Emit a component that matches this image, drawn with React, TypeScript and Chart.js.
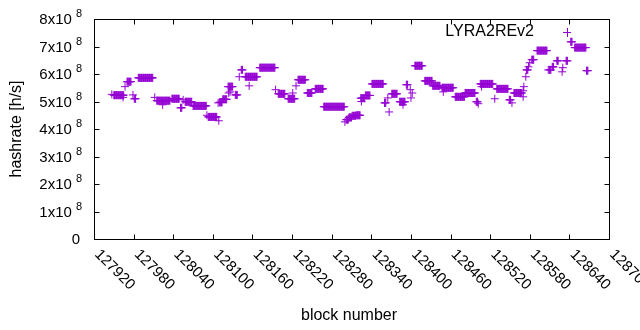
import React, { useEffect, useRef } from 'react';
import { Chart, registerables } from 'chart.js';

Chart.register(...registerables);

const seriesLabel = 'LYRA2REv2';
const xTitle = 'block number';
const yTitle = 'hashrate [h/s]';

const xTicks = [127920, 127980, 128040, 128100, 128160, 128220, 128280, 128340, 128400, 128460, 128520, 128580, 128640, 128700];
const yTicks = [0, 1e8, 2e8, 3e8, 4e8, 5e8, 6e8, 7e8, 8e8];
const yTickMantissa = ['0', '1x10', '2x10', '3x10', '4x10', '5x10', '6x10', '7x10', '8x10'];
const yTickExponent = ['', '8', '8', '8', '8', '8', '8', '8', '8'];

// Runs of consecutive blocks reporting (roughly) the same hashrate
const runStart = [127947, 127950, 127964, 127967, 127970, 127979, 127981, 127987, 128012, 128015, 128024, 128038, 128051, 128055, 128058, 128070, 128091, 128093, 128108, 128109, 128110, 128115, 128123, 128124, 128126, 128134, 128140, 128143, 128149, 128155, 128171, 128195, 128199, 128214, 128221, 128226, 128229, 128243, 128255, 128268, 128300, 128302, 128306, 128311, 128317, 128325, 128324, 128331, 128341, 128360, 128365, 128367, 128371, 128383, 128388, 128393, 128399, 128400, 128402, 128406, 128421, 128433, 128447, 128449, 128467, 128482, 128499, 128502, 128505, 128507, 128527, 128530, 128549, 128553, 128556, 128570, 128570, 128571, 128574, 128575, 128578, 128580, 128583, 128591, 128608, 128610, 128614, 128621, 128629, 128630, 128635, 128642, 128648, 128666];
const runEnd = [127947, 127965, 127964, 127967, 127976, 127979, 127983, 128009, 128012, 128035, 128024, 128049, 128053, 128055, 128068, 128090, 128091, 128106, 128108, 128109, 128114, 128121, 128130, 128124, 128126, 128137, 128140, 128145, 128167, 128155, 128194, 128195, 128209, 128224, 128221, 128226, 128240, 128250, 128267, 128299, 128300, 128305, 128310, 128316, 128323, 128325, 128330, 128338, 128358, 128362, 128365, 128367, 128379, 128391, 128388, 128395, 128399, 128400, 128402, 128417, 128432, 128444, 128464, 128449, 128481, 128497, 128501, 128502, 128524, 128507, 128527, 128547, 128551, 128553, 128568, 128570, 128570, 128571, 128574, 128577, 128578, 128580, 128586, 128606, 128608, 128612, 128616, 128623, 128629, 128630, 128637, 128644, 128665, 128668];
const runRate = [5.26e8, 5.23e8, 5.15e8, 5.54e8, 5.72e8, 5.24e8, 5.10e8, 5.86e8, 5.15e8, 5.03e8, 4.88e8, 5.10e8, 4.77e8, 5.06e8, 4.99e8, 4.84e8, 4.50e8, 4.44e8, 4.95e8, 4.30e8, 4.97e8, 5.08e8, 5.54e8, 5.31e8, 5.35e8, 5.24e8, 5.90e8, 6.15e8, 5.90e8, 5.57e8, 6.23e8, 5.43e8, 5.28e8, 5.10e8, 5.31e8, 5.57e8, 5.79e8, 5.31e8, 5.46e8, 4.81e8, 4.26e8, 4.34e8, 4.42e8, 4.48e8, 4.50e8, 5.00e8, 5.12e8, 5.22e8, 5.64e8, 4.95e8, 5.13e8, 4.62e8, 5.28e8, 4.99e8, 4.88e8, 5.61e8, 5.43e8, 5.13e8, 5.31e8, 6.30e8, 5.75e8, 5.57e8, 5.50e8, 5.35e8, 5.17e8, 5.31e8, 4.99e8, 4.92e8, 5.64e8, 5.54e8, 5.10e8, 5.46e8, 5.06e8, 4.95e8, 5.31e8, 5.17e8, 5.39e8, 5.54e8, 5.90e8, 6.15e8, 6.26e8, 6.41e8, 6.52e8, 6.85e8, 6.15e8, 6.15e8, 6.26e8, 6.48e8, 6.08e8, 6.23e8, 6.48e8, 7.17e8, 6.96e8, 6.12e8];

const COLOR = '#9400D3';
const FONT = '"Liberation Sans", Arial, sans-serif';

function buildPoints() {
  const pts: { x: number; y: number }[] = [];
  for (let i = 0; i < runStart.length; i++) {
    for (let b = runStart[i]; b <= runEnd[i]; b++) pts.push({ x: b, y: runRate[i] });
  }
  return pts;
}

const gnuplotFrame = {
  id: 'gnuplotFrame',
  afterDraw(chart: any) {
    const { ctx, chartArea: a, scales } = chart;
    const xs = scales.x;
    const ys = scales.y;
    const L = Math.round(a.left) + 0.5;
    const R = Math.round(a.right) + 0.5;
    const T = Math.round(a.top) + 0.5;
    const B = Math.round(a.bottom) + 0.5;
    ctx.save();
    ctx.strokeStyle = '#000';
    ctx.lineWidth = 1;
    ctx.strokeRect(L, T, R - L, B - T);
    const tl = 5;
    ctx.beginPath();
    for (const t of xTicks) {
      const px = Math.round(xs.getPixelForValue(t)) + 0.5;
      if (px <= L + 1 || px >= R - 1) continue;
      ctx.moveTo(px, B); ctx.lineTo(px, B - tl);
      ctx.moveTo(px, T); ctx.lineTo(px, T + tl);
    }
    for (const t of yTicks) {
      const py = Math.round(ys.getPixelForValue(t)) + 0.5;
      if (py <= T + 1 || py >= B - 1) continue;
      ctx.moveTo(L, py); ctx.lineTo(L + tl, py);
      ctx.moveTo(R, py); ctx.lineTo(R - tl, py);
    }
    ctx.stroke();

    ctx.fillStyle = '#000';
    // y tick labels with superscript exponent
    const labRight = 82;
    yTicks.forEach((t, i) => {
      const py = ys.getPixelForValue(t);
      ctx.textBaseline = 'middle';
      ctx.textAlign = 'right';
      if (!yTickExponent[i]) {
        ctx.font = `15px ${FONT}`;
        ctx.fillText(yTickMantissa[i], labRight - 2, py + 1);
        return;
      }
      ctx.font = `11px ${FONT}`;
      ctx.fillText(yTickExponent[i], labRight, py - 5);
      const w = ctx.measureText(yTickExponent[i]).width;
      ctx.font = `15px ${FONT}`;
      ctx.fillText(yTickMantissa[i], labRight - w - 4, py + 1);
    });

    // x tick labels rotated 45 degrees
    ctx.font = `15px ${FONT}`;
    ctx.textAlign = 'left';
    ctx.textBaseline = 'middle';
    xTicks.forEach((t) => {
      const px = xs.getPixelForValue(t);
      ctx.save();
      ctx.translate(px + 3, a.bottom + 13);
      ctx.rotate(Math.PI / 4);
      ctx.fillText(String(t), 0, 0);
      ctx.restore();
    });

    // axis titles
    ctx.font = `16px ${FONT}`;
    ctx.textAlign = 'center';
    ctx.textBaseline = 'middle';
    ctx.fillText(xTitle, 349, 316);
    ctx.save();
    ctx.translate(17, (a.top + a.bottom) / 2);
    ctx.rotate(-Math.PI / 2);
    ctx.fillText(yTitle, 0, 0);
    ctx.restore();

    // key
    ctx.font = `16px ${FONT}`;
    ctx.textAlign = 'right';
    ctx.fillText(seriesLabel, 534, 32);
    ctx.strokeStyle = COLOR;
    ctx.beginPath();
    ctx.moveTo(563, 32.5); ctx.lineTo(571, 32.5);
    ctx.moveTo(567.5, 28); ctx.lineTo(567.5, 37);
    ctx.stroke();
    ctx.restore();
  },
};

export default function App() {
  const ref = useRef<HTMLCanvasElement | null>(null);
  useEffect(() => {
    if (!ref.current) return;
    const chart = new Chart(ref.current, {
      type: 'scatter',
      data: {
        datasets: [
          {
            label: seriesLabel,
            data: buildPoints(),
            pointStyle: 'cross',
            pointRadius: 4,
            pointBorderWidth: 1,
            borderColor: COLOR,
            backgroundColor: COLOR,
          },
        ],
      },
      options: {
        animation: false,
        responsive: false,
        maintainAspectRatio: false,
        devicePixelRatio: 1,
        layout: { padding: { left: 94, right: 31, top: 19, bottom: 91 } },
        plugins: { legend: { display: false }, tooltip: { enabled: false } },
        scales: {
          x: { type: 'linear', min: 127920, max: 128700, display: false },
          y: { type: 'linear', min: 0, max: 8e8, display: false },
        },
      },
      plugins: [gnuplotFrame],
    });
    return () => chart.destroy();
  }, []);
  return (
    <div style={{ position: 'fixed', left: 0, top: 0, width: 640, height: 330, background: '#fff' }}>
      <canvas ref={ref} width={640} height={330} style={{ width: 640, height: 330 }} />
    </div>
  );
}
